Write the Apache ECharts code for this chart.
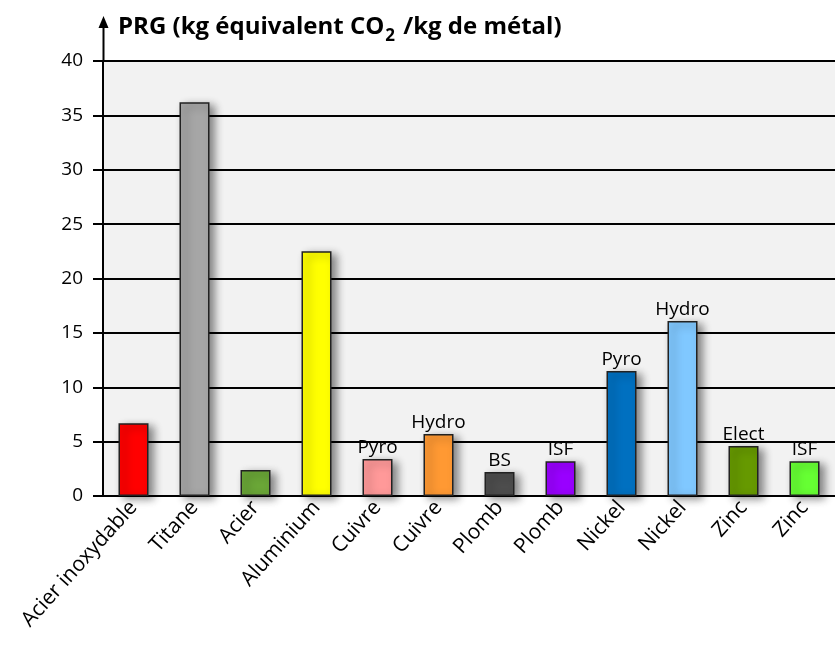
<!DOCTYPE html>
<html><head><meta charset="utf-8">
<script src="https://cdn.jsdelivr.net/npm/echarts@6/dist/echarts.min.js"></script>
<style>html,body{margin:0;padding:0;background:#fff}#c{width:835px;height:670px}</style>
</head><body><div id="c"></div>
<script>
const categories = ['Acier inoxydable','Titane','Acier','Aluminium','Cuivre','Cuivre','Plomb','Plomb','Nickel','Nickel','Zinc','Zinc'];
const values = [6.7, 36.2, 2.4, 22.5, 3.4, 5.7, 2.2, 3.2, 11.5, 16.1, 4.6, 3.2];
const processLabels = ['','','','','Pyro','Hydro','BS','ISF','Pyro','Hydro','Elect','ISF'];
const yTicks = [0,5,10,15,20,25,30,35,40];
const barColors = ['#ff0000','#a6a6a6','#6aa637','#ffff00','#ff9999','#ff9933','#4d4d4d','#9900ff','#0070c0','#80c8ff','#669900','#66ff33'];
const FONT = '"Open Sans", "Noto Sans", sans-serif';

const chart = echarts.init(document.getElementById('c'));
chart.setOption({
  animation: false,
  backgroundColor: '#ffffff',
  title: {
    left: 113, top: 10,
    text: '{b|PRG (kg équivalent CO}{s|2}{b| /kg de métal)}',
    textStyle: {
      rich: {
        b: {fontFamily: FONT, fontWeight: 'bold', fontSize: 24, color: '#000', verticalAlign: 'top', lineHeight: 30},
        s: {fontFamily: FONT, fontWeight: 'bold', fontSize: 17, color: '#000', verticalAlign: 'top', lineHeight: 22, padding: [13, 2, 0, 1]}
      }
    }
  },
  grid: {left: 103, right: 0, top: 61, bottom: 174, show: true, backgroundColor: '#f2f2f2', borderWidth: 0},
  xAxis: {
    type: 'category', data: categories,
    axisLine: {lineStyle: {color: '#000', width: 2}},
    axisTick: {show: false},
    axisLabel: {rotate: 48, fontSize: 21, color: '#000', fontFamily: FONT, margin: 8, interval: 0, padding: [5, 0, 0, 0]}
  },
  yAxis: {
    type: 'value', min: yTicks[0], max: yTicks[yTicks.length-1], interval: yTicks[1]-yTicks[0],
    axisLine: {show: true, lineStyle: {color: '#000', width: 2}},
    axisTick: {show: true, length: 10, lineStyle: {color: '#000', width: 2}},
    axisLabel: {fontSize: 19, color: '#000', fontFamily: FONT, margin: 20},
    splitLine: {lineStyle: {color: '#000', width: 2}}
  },
  series: [{
    type: 'bar', barWidth: 30,
    data: values.map((v, i) => ({value: v, itemStyle: {color: barColors[i]}})),
    itemStyle: {borderColor: '#222', borderWidth: 1.5, shadowColor: 'rgba(0,0,0,0.45)', shadowBlur: 8, shadowOffsetX: 5, shadowOffsetY: 3},
    label: {show: true, position: 'top', distance: 2, fontSize: 19, color: '#000', fontFamily: FONT,
      formatter: p => processLabels[p.dataIndex]}
  }],
  graphic: [
    {type: 'line', shape: {x1: 103.5, y1: 62, x2: 103.5, y2: 24}, style: {stroke: '#000', lineWidth: 2}, z: 100},
    {type: 'polygon', shape: {points: [[103.5, 16], [98.5, 28], [108.5, 28]]}, style: {fill: '#000'}, z: 100}
  ]
});
</script></body></html>
